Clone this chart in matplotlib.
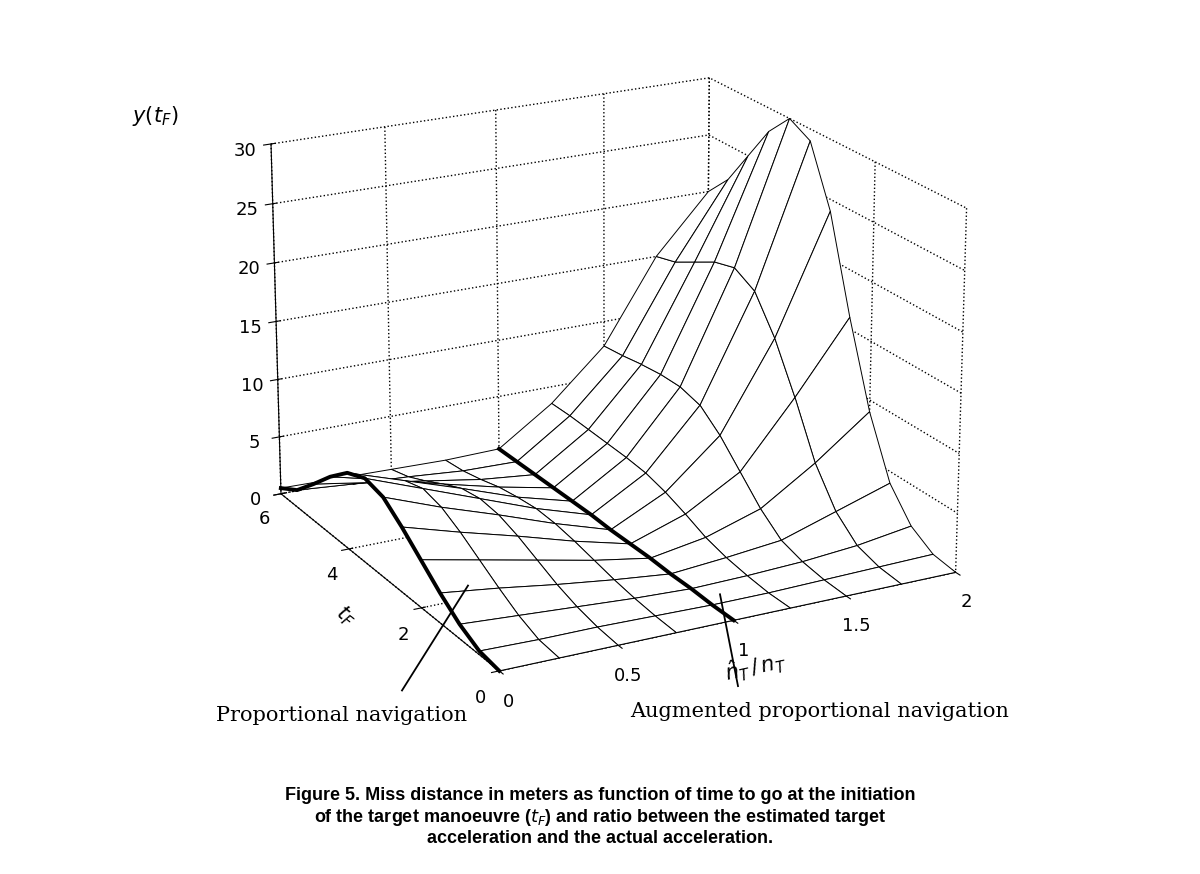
import numpy as np
import matplotlib.pyplot as plt

# ratio n_T_hat / n_T and time to go t_F
ratio = [0, 0.25, 0.5, 0.75, 1.0, 1.25, 1.5, 1.75, 2.0]
t_f = [0, 0.5, 1, 1.5, 2, 2.5, 3, 3.5, 4, 4.5, 5, 5.5, 6]

# miss distance y(t_F), one list per ratio value (along t_F)
y_r000 = [0, 0.3, 1.2, 2.5, 4.0, 5.5, 6.8, 7.2, 6.5, 5.0, 3.2, 1.5, 0.5]
y_r025 = [0, 0.2, 0.9, 1.9, 3.0, 4.1, 5.0, 5.4, 4.9, 3.8, 2.4, 1.1, 0.4]
y_r050 = [0, 0.2, 0.6, 1.2, 2.0, 2.8, 3.4, 3.6, 3.3, 2.5, 1.6, 0.8, 0.3]
y_r075 = [0, 0.1, 0.3, 0.6, 1.0, 1.4, 1.7, 1.8, 1.6, 1.3, 0.8, 0.4, 0.2]
y_r100 = [0, 0.0, 0.1, 0.1, 0.2, 0.2, 0.2, 0.3, 0.3, 0.3, 0.3, 0.3, 0.3]
y_r125 = [0, 0.0, 0.2, 0.5, 1.0, 1.8, 2.5, 3.0, 3.2, 3.3, 3.4, 3.5, 3.5]
y_r150 = [0, 0.1, 0.4, 1.0, 2.5, 4.5, 6.5, 8.0, 8.5, 8.5, 8.3, 8.0, 7.8]
y_r175 = [0, 0.2, 0.8, 2.5, 5.5, 10.0, 14.0, 17.0, 18.0, 17.5, 16.5, 15.5, 15.0]
y_r200 = [0, 0.3, 1.5, 4.0, 9.0, 16.0, 24.0, 29.0, 30.0, 28.0, 25.0, 22.0, 20.0]

Z = np.array([y_r000, y_r025, y_r050, y_r075, y_r100,
              y_r125, y_r150, y_r175, y_r200]).T
R, T = np.meshgrid(ratio, t_f)

fig = plt.figure(figsize=(12, 8.74), dpi=100)
ax = fig.add_axes([0.0, 0.13, 1.0, 0.9], projection='3d')
ax.plot_surface(R, T, Z, color='white', edgecolor='black', linewidth=0.7,
                shade=False, antialiased=True)
ax.plot(np.zeros(len(t_f)), t_f, Z[:, 0], color='black', lw=2.8, zorder=10)
ax.plot(np.full(len(t_f), 1.0), t_f, Z[:, 4], color='black', lw=2.8, zorder=10)

ax.set_xlim(0, 2)
ax.set_ylim(0, 6)
ax.set_zlim(0, 30)
ax.set_xticks([0, 0.5, 1, 1.5, 2])
ax.set_xticklabels(['0', '0.5', '1', '1.5', '2'])
ax.set_yticks([0, 2, 4, 6])
ax.set_zticks([0, 5, 10, 15, 20, 25, 30])
ax.tick_params(labelsize=13)
ax.view_init(elev=20, azim=-118)
for a in (ax.xaxis, ax.yaxis, ax.zaxis):
    a.pane.fill = False
    a.pane.set_edgecolor('white')
    a._axinfo['grid'].update(color='black', linestyle=':', linewidth=1.0)
ax.set_xlabel(r'$\hat{n}_T\,/\,n_T$', fontsize=15, family='serif')
ax.set_ylabel(r'$t_F$', fontsize=15, family='serif')
ax.set_zlabel('')
fig.text(0.11, 0.86, r'$y(t_F)$', fontsize=15, family='serif')

fig.text(0.18, 0.175, 'Proportional navigation', fontsize=15, family='serif')
fig.text(0.525, 0.18, 'Augmented proportional navigation', fontsize=15, family='serif')
fig.add_artist(plt.Line2D([0.335, 0.39], [0.21, 0.33], color='black', lw=1.3))
fig.add_artist(plt.Line2D([0.615, 0.6], [0.215, 0.32], color='black', lw=1.3))
fig.text(0.5, 0.035,
         'Figure 5. Miss distance in meters as function of time to go at the initiation\n'
         'of the target manoeuvre ($t_F$) and ratio between the estimated target\n'
         'acceleration and the actual acceleration.',
         ha='center', fontsize=13, fontweight='bold', family='Liberation Sans')

plt.savefig('out.png', dpi=100)
